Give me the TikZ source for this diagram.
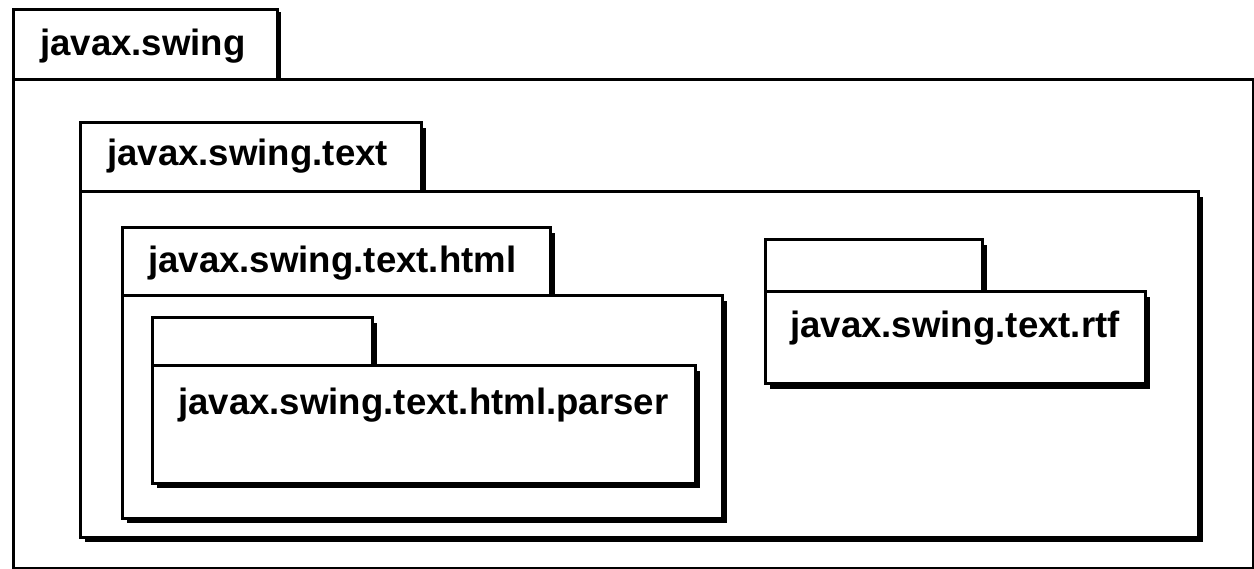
\documentclass[tikz,border=0pt]{standalone}
\usepackage{fontspec}
\setmainfont{Liberation Sans}
\tikzset{
  pkgline/.style={draw=black,line width=3pt,fill=white},
  pkgshadow/.style={fill=black},
  lbl/.style={anchor=base west,inner sep=0pt,font=\bfseries\fontsize{36.6}{40}\selectfont}
}
% #1 x-left, #2 tab top, #3 tab right, #4 body top, #5 body right, #6 body bottom
\newcommand\umlpkgbox[6]{%
  \fill[pkgshadow] (#1+5,#2+5) rectangle (#3+5,#4+5);
  \fill[pkgshadow] (#1+5,#4+5) rectangle (#5+5,#6+5);
  \draw[pkgline] (#1,#2) rectangle (#3,#4);
  \draw[pkgline] (#1,#4) rectangle (#5,#6);
}
\begin{document}
\begin{tikzpicture}[x=1pt,y=-1pt]
\useasboundingbox[fill=white] (0,0) rectangle (1254,569);
% javax.swing (outer)
\draw[pkgline] (13,10) rectangle (277,80);
\draw[pkgline] (13,80) rectangle (1253,568);
\fill[pkgshadow] (277,12) rectangle (281,80);
\node[lbl] (swing) at (40,56) {javax.swing};
% javax.swing.text
\umlpkgbox{80}{123}{421}{192}{1198}{537}
\node[lbl] (text) at (107,166) {javax.swing.text};
% javax.swing.text.html
\umlpkgbox{122}{228}{550}{296}{722}{518}
\node[lbl] (html) at (148,273) {javax.swing.text.html};
% javax.swing.text.html.parser
\umlpkgbox{152}{318}{372}{366}{695}{483}
\node[lbl] (parser) at (178,415) {javax.swing.text.html.parser};
% javax.swing.text.rtf
\umlpkgbox{765}{240}{982}{292}{1145}{384}
\node[lbl] (rtf) at (790,338) {javax.swing.text.rtf};
\end{tikzpicture}
\end{document}
